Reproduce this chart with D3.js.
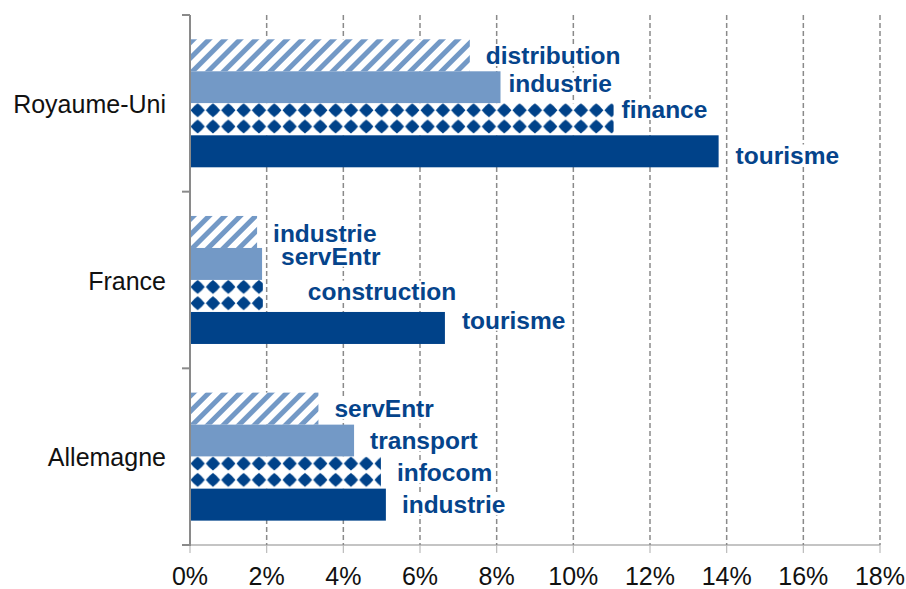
<!DOCTYPE html>
<html>
<head>
<meta charset="utf-8">
<script src="https://cdn.jsdelivr.net/npm/d3@7"></script>
<style>
  body { margin: 0; background: #fff; }
  svg { display: block; font-family: "Liberation Sans", Arial, sans-serif; }
</style>
</head>
<body>
<svg id="chart" width="906" height="589"></svg>
<script>
// data (percent)
const countries = ["Royaume-Uni", "France", "Allemagne"];
const sectorsUK = ["distribution", "industrie", "finance", "tourisme"];
const valuesUK = [7.30, 8.10, 11.05, 13.79];
const sectorsFR = ["industrie", "servEntr", "construction", "tourisme"];
const valuesFR = [1.75, 1.88, 1.90, 6.65];
const sectorsDE = ["servEntr", "transport", "infocom", "industrie"];
const valuesDE = [3.35, 4.28, 4.98, 5.11];
const xTicks = [0, 2, 4, 6, 8, 10, 12, 14, 16, 18];

// label nudges [dx, dy] (layout only), same order as above
const nudges = [
  [[0, 0], [-8, -4.5], [-8, -10], [1, 3.5]],
  [[0, 1], [3, -8], [29, -5], [1, -8]],
  [[0, 0], [0, 0], [0, 0], [0, 0]]
];

const sectors = [sectorsUK, sectorsFR, sectorsDE];
const values = [valuesUK, valuesFR, valuesDE];

const dark = "#004289", light = "#7399c6", textCol = "#05448b", grey = "#8a8a8a";

const margin = {top: 15, right: 26, bottom: 44, left: 190},
  width = 906 - margin.left - margin.right,
  height = 589 - margin.top - margin.bottom;

const svg = d3.select("#chart");

// patterns
const defs = svg.append("defs");
const hatch = defs.append("pattern")
  .attr("id", "hatch")
  .attr("patternUnits", "userSpaceOnUse")
  .attr("width", 11).attr("height", 11)
  .attr("patternTransform", "rotate(45)");
hatch.append("rect").attr("width", 11).attr("height", 11).attr("fill", "#fff");
hatch.append("rect").attr("width", 5).attr("height", 11).attr("fill", light);

const pw = 15.33, ph = 16.3;
const diamond = defs.append("pattern")
  .attr("id", "diamond")
  .attr("patternUnits", "userSpaceOnUse")
  .attr("width", pw).attr("height", ph);
diamond.append("rect").attr("width", pw).attr("height", ph).attr("fill", "#fff");
[-ph, 0, ph].forEach(function(off){
  let cx = pw / 2, cy = 7 + off, rx = 7.1, ry = 6.9, k = 0.58;
  diamond.append("path")
    .attr("d", "M" + cx + "," + (cy - ry) +
      " Q" + (cx + rx * k) + "," + (cy - ry * k) + " " + (cx + rx) + "," + cy +
      " Q" + (cx + rx * k) + "," + (cy + ry * k) + " " + cx + "," + (cy + ry) +
      " Q" + (cx - rx * k) + "," + (cy + ry * k) + " " + (cx - rx) + "," + cy +
      " Q" + (cx - rx * k) + "," + (cy - ry * k) + " " + cx + "," + (cy - ry) + "Z")
    .attr("fill", dark);
});

const fills = ["url(#hatch)", light, "url(#diamond)", dark];

const g = svg.append("g")
  .attr("transform", "translate(" + margin.left + "," + margin.top + ")");

let x = d3.scaleLinear().domain([0, 18]).range([0, width]),
    y = d3.scaleBand().domain(countries).range([0, height]),
    yi = d3.scaleBand().domain([0, 1, 2, 3]).range([24.3, 152.3]);

// dashed gridlines
g.append("g").selectAll("line")
  .data(xTicks.slice(1))
  .join("line")
    .attr("x1", d => x(d)).attr("x2", d => x(d))
    .attr("y1", 0).attr("y2", height)
    .attr("stroke", grey)
    .attr("stroke-width", 1.5)
    .attr("stroke-dasharray", "5,3");

// bars, each in its own group so the patterns start at the bar corner
countries.forEach(function(c, ci){
  let rows = values[ci].map((v, i) => ({v: v, i: i, name: sectors[ci][i]}));
  let grp = g.append("g");

  grp.selectAll("g.bar")
    .data(rows)
    .join("g")
      .attr("class", "bar")
      .attr("transform", d => "translate(" + x(0) + "," + (y(c) + yi(d.i)) + ")")
    .append("rect")
      .attr("width", d => x(d.v) - x(0))
      .attr("height", yi.bandwidth())
      .attr("fill", d => fills[d.i]);

  // labels with white box
  rows.forEach(function(d){
    let nd = nudges[ci][d.i];
    let lg = g.append("g");
    let t = lg.append("text")
      .attr("x", x(d.v) + 16 + nd[0])
      .attr("y", y(c) + yi(d.i) + yi.bandwidth() / 2 + 8.7 + nd[1])
      .attr("fill", textCol)
      .style("font-size", "24.5px")
      .style("font-weight", "bold")
      .text(d.name);
    let bb = t.node().getBBox();
    lg.insert("rect", "text")
      .attr("x", bb.x - 1).attr("y", bb.y + 3)
      .attr("width", bb.width + 2).attr("height", bb.height - 6)
      .attr("fill", "#fff");
  });
});

// axes
g.append("line")
  .attr("x1", -7).attr("x2", width)
  .attr("y1", height).attr("y2", height)
  .attr("stroke", grey).attr("stroke-width", 1.2);

g.append("g").selectAll("line")
  .data(xTicks)
  .join("line")
    .attr("x1", d => x(d)).attr("x2", d => x(d))
    .attr("y1", height).attr("y2", height + 8)
    .attr("stroke", "#bbb").attr("stroke-width", 1.2);

g.append("line")
  .attr("x1", 0).attr("x2", 0)
  .attr("y1", 0).attr("y2", height + 1)
  .attr("stroke", grey).attr("stroke-width", 2);

g.append("g").selectAll("line")
  .data([0, 1, 2, 3])
  .join("line")
    .attr("x1", -8).attr("x2", 0)
    .attr("y1", d => d * y.step()).attr("y2", d => d * y.step())
    .attr("stroke", grey).attr("stroke-width", 2);

// tick labels
g.append("g").selectAll("text")
  .data(xTicks)
  .join("text")
    .attr("x", d => x(d))
    .attr("y", height + 39.5)
    .attr("text-anchor", "middle")
    .style("font-size", "25px")
    .attr("fill", "#111")
    .text(d => d + "%");

g.append("g").selectAll("text")
  .data(countries)
  .join("text")
    .attr("x", -24)
    .attr("y", d => y(d) + y.bandwidth() / 2 + 9.7)
    .attr("text-anchor", "end")
    .style("font-size", "25px")
    .attr("fill", "#111")
    .text(d => d);
</script>
</body>
</html>
